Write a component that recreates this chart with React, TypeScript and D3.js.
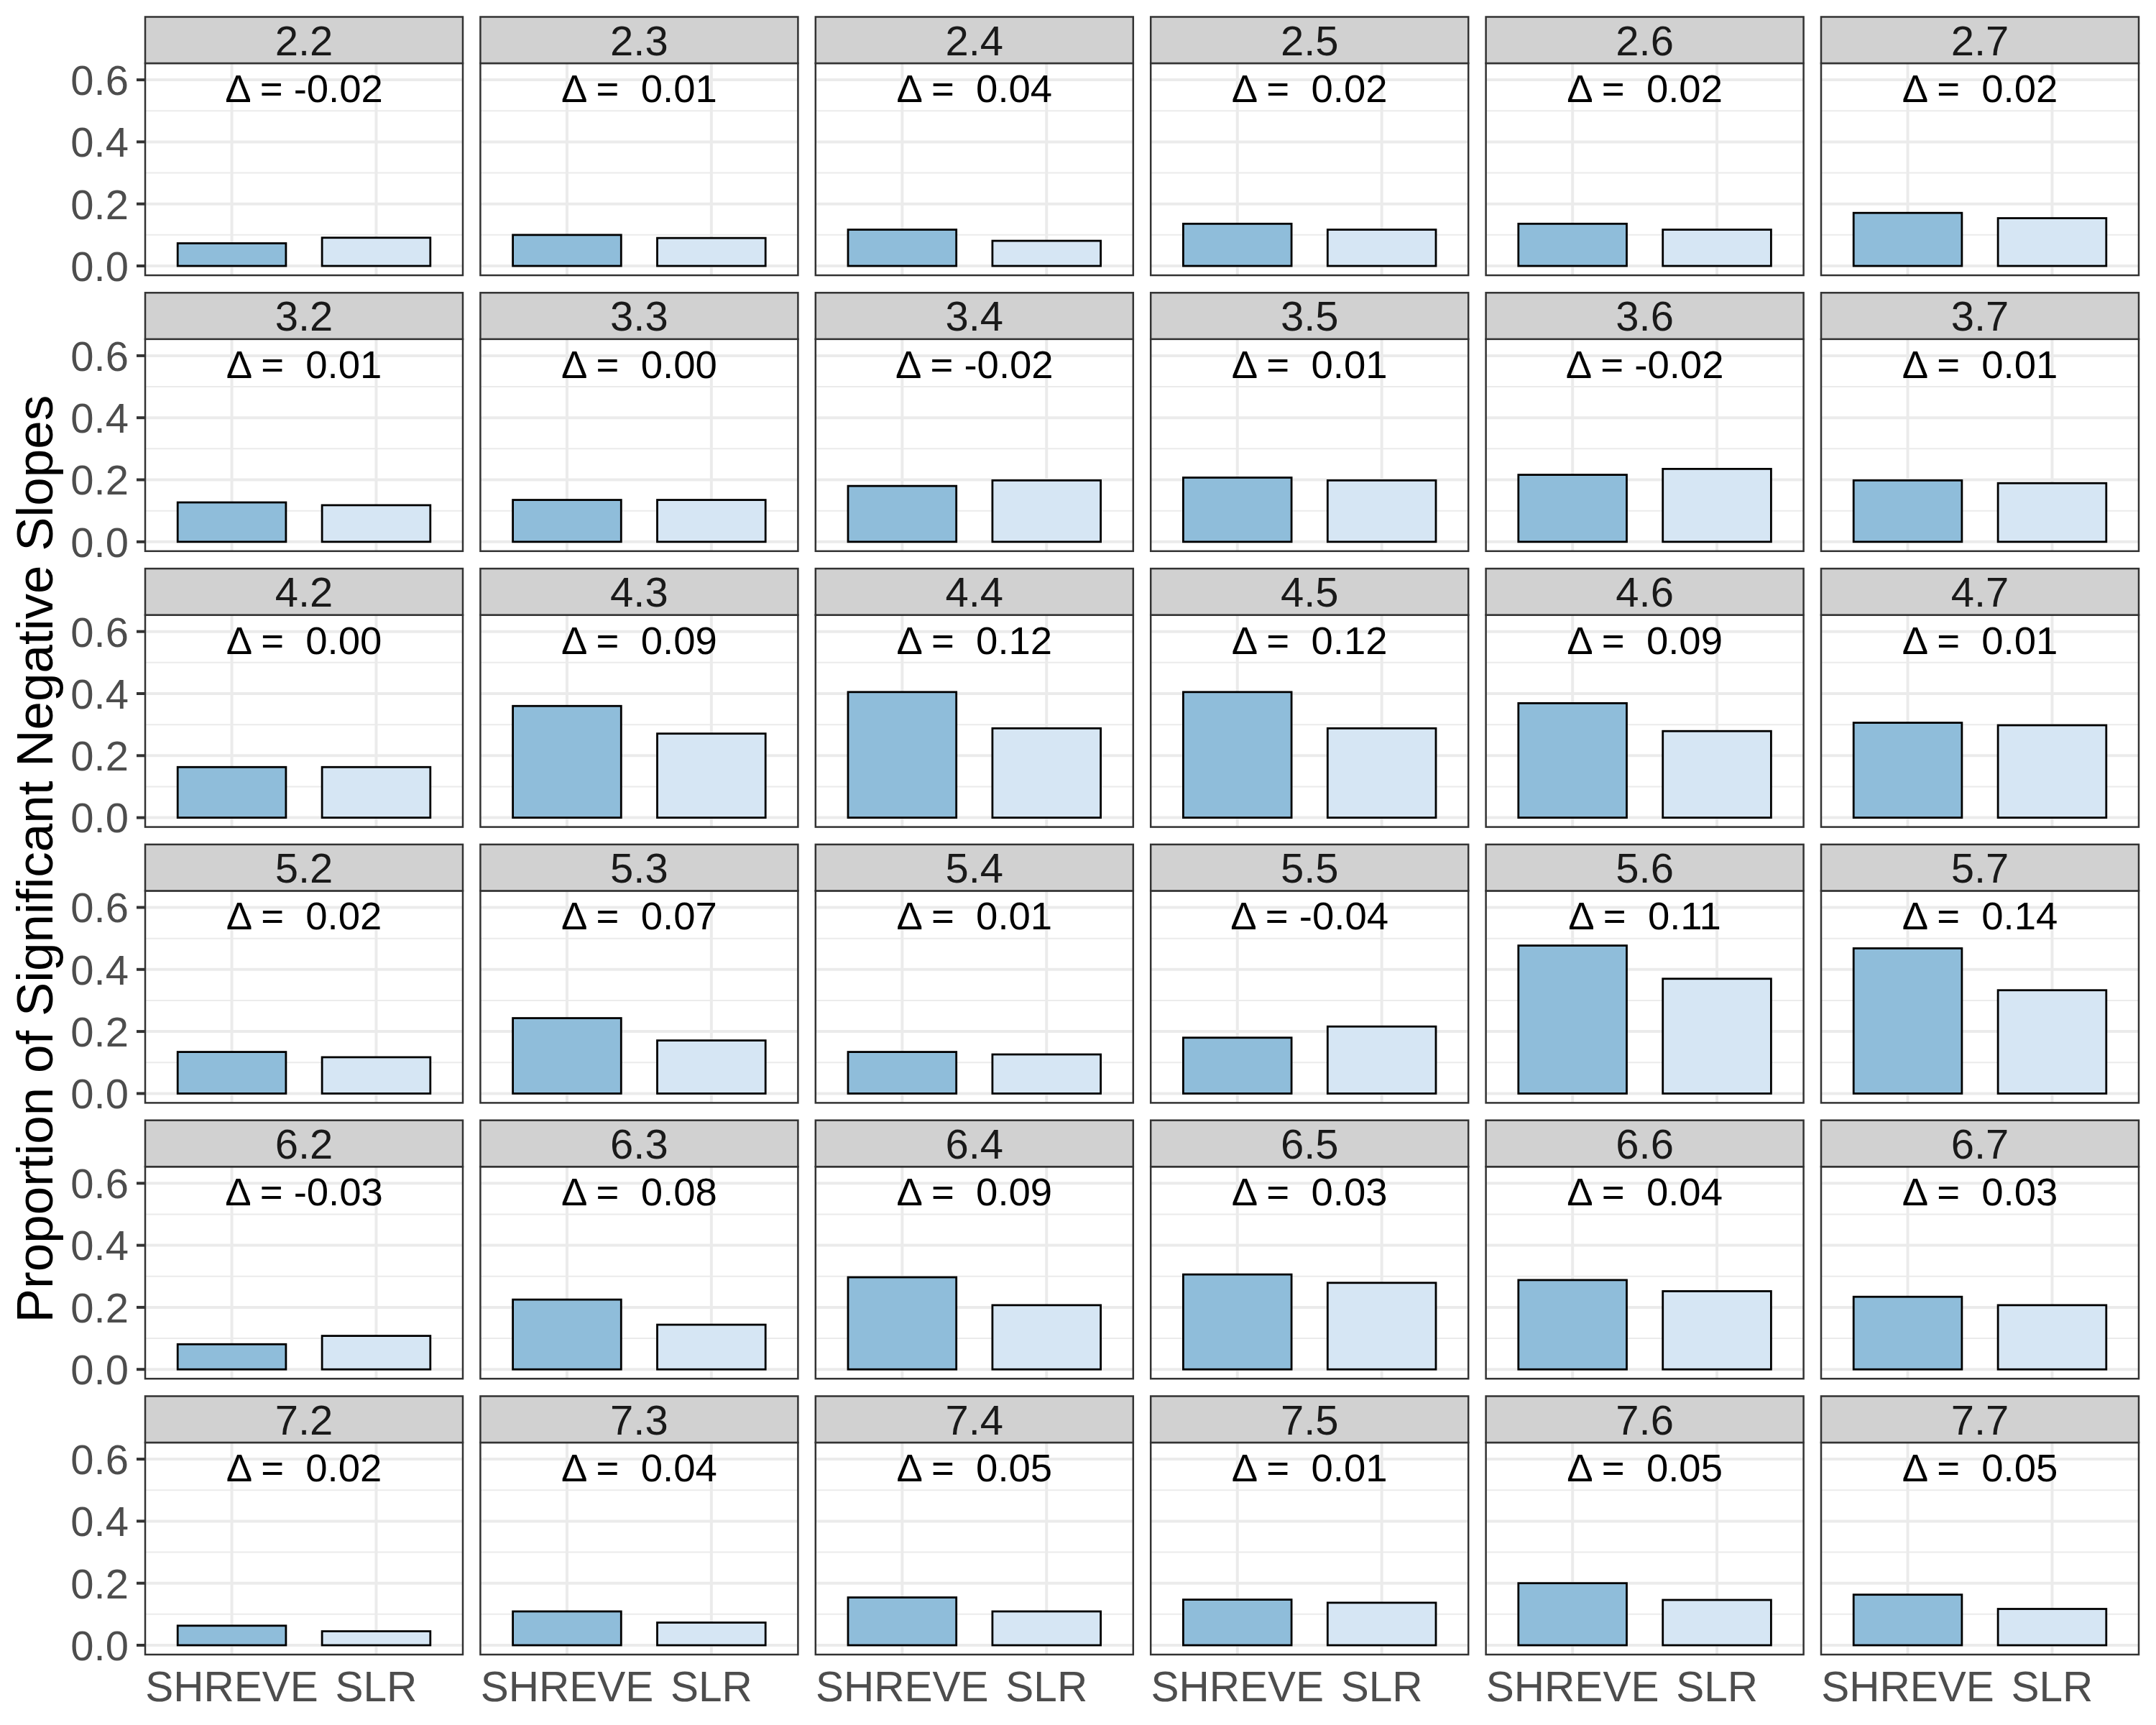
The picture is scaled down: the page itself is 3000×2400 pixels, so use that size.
import * as d3 from "d3";
import React from "react";

// facet labels, row by row
const panelLabels = [
  "2.2", "2.3", "2.4", "2.5", "2.6", "2.7",
  "3.2", "3.3", "3.4", "3.5", "3.6", "3.7",
  "4.2", "4.3", "4.4", "4.5", "4.6", "4.7",
  "5.2", "5.3", "5.4", "5.5", "5.6", "5.7",
  "6.2", "6.3", "6.4", "6.5", "6.6", "6.7",
  "7.2", "7.3", "7.4", "7.5", "7.6", "7.7",
];
const methods = ["SHREVE", "SLR"];
const shreve = [
  0.073, 0.1, 0.117, 0.136, 0.136, 0.171,
  0.127, 0.135, 0.18, 0.207, 0.216, 0.198,
  0.163, 0.36, 0.405, 0.405, 0.369, 0.306,
  0.134, 0.243, 0.134, 0.18, 0.477, 0.468,
  0.081, 0.225, 0.297, 0.306, 0.288, 0.234,
  0.063, 0.109, 0.154, 0.147, 0.2, 0.163,
];
const slr = [
  0.091, 0.09, 0.081, 0.117, 0.117, 0.154,
  0.118, 0.135, 0.198, 0.198, 0.235, 0.189,
  0.163, 0.271, 0.288, 0.288, 0.279, 0.298,
  0.117, 0.171, 0.126, 0.216, 0.37, 0.333,
  0.108, 0.144, 0.207, 0.279, 0.252, 0.207,
  0.045, 0.073, 0.109, 0.137, 0.146, 0.117,
];
const deltas = [
  -0.02, 0.01, 0.04, 0.02, 0.02, 0.02,
  0.01, 0.0, -0.02, 0.01, -0.02, 0.01,
  0.0, 0.09, 0.12, 0.12, 0.09, 0.01,
  0.02, 0.07, 0.01, -0.04, 0.11, 0.14,
  -0.03, 0.08, 0.09, 0.03, 0.04, 0.03,
  0.02, 0.04, 0.05, 0.01, 0.05, 0.05,
];
const yTicks = [0, 0.2, 0.4, 0.6];
const yMinor = [0.1, 0.3, 0.5];

const fills = ["#8fbdda", "#d6e6f4"];
const font = "'Liberation Sans', Arial, Helvetica, sans-serif";

const nCols = 6;
const left0 = 202;
const colStep = 466.4;
const panelW = 442;
const top0 = 23.5;
const rowStep = 383.8;
const stripH = 64.5;
const panelH = 295;

const fmtDelta = (d: number) =>
  d < 0 ? `Δ = ${d.toFixed(2)}` : `Δ =  ${d.toFixed(2)}`;

const App = () => {
  const x = d3.scalePoint().domain(methods).range([0, panelW]).padding(0.6);
  const barW = x.step() * 0.75;
  const y = d3.scaleLinear().domain([-0.0301, 0.6535]).range([panelH, 0]);
  const nRows = Math.ceil(panelLabels.length / nCols);
  const lastRowTop = top0 + (nRows - 1) * rowStep + stripH;

  return (
    <svg
      width={3000}
      height={2400}
      style={{ position: "absolute", left: 0, top: 0, background: "#fff" }}
      fontFamily={font}
    >
      <rect width={3000} height={2400} fill="#fff" />
      {panelLabels.map((label, i) => {
        const c = i % nCols;
        const r = Math.floor(i / nCols);
        const px = left0 + c * colStep;
        const sy = top0 + r * rowStep;
        const py = sy + stripH;
        const vals = [shreve[i], slr[i]];
        return (
          <g key={label}>
            <g transform={`translate(${px},${py})`}>
              <rect width={panelW} height={panelH} fill="#fff" />
              {yMinor.map((t) => (
                <line key={t} x1={0} x2={panelW} y1={y(t)} y2={y(t)} stroke="#ebebeb" strokeWidth={2} />
              ))}
              {yTicks.map((t) => (
                <line key={t} x1={0} x2={panelW} y1={y(t)} y2={y(t)} stroke="#ebebeb" strokeWidth={4} />
              ))}
              {methods.map((m) => (
                <line key={m} x1={x(m)} x2={x(m)} y1={0} y2={panelH} stroke="#ebebeb" strokeWidth={4} />
              ))}
              {methods.map((m, k) => (
                <rect
                  key={m}
                  x={(x(m) as number) - barW / 2}
                  y={y(vals[k])}
                  width={barW}
                  height={y(0) - y(vals[k])}
                  fill={fills[k]}
                  stroke="#000"
                  strokeWidth={2.8}
                />
              ))}
              <text
                x={panelW / 2}
                y={54}
                textAnchor="middle"
                fontSize={54.5}
                fill="#000"
                style={{ whiteSpace: "pre" }}
              >
                {fmtDelta(deltas[i])}
              </text>
              <rect width={panelW} height={panelH} fill="none" stroke="#333" strokeWidth={2.5} />
              {c === 0 &&
                yTicks.map((t) => (
                  <g key={t}>
                    <line x1={-12} x2={0} y1={y(t)} y2={y(t)} stroke="#333" strokeWidth={4} />
                    <text
                      x={-23}
                      y={y(t)}
                      dy="0.36em"
                      textAnchor="end"
                      fontSize={58}
                      fill="#4d4d4d"
                    >
                      {d3.format(".1f")(t)}
                    </text>
                  </g>
                ))}
              {r === nRows - 1 &&
                methods.map((m) => (
                  <text key={m} x={x(m)} y={panelH + 65} textAnchor="middle" fontSize={58.5} fill="#4d4d4d">
                    {m}
                  </text>
                ))}
            </g>
            <rect x={px} y={sy} width={panelW} height={stripH} fill="#d1d1d1" stroke="#333" strokeWidth={2.5} />
            <text x={px + panelW / 2} y={sy + 53} textAnchor="middle" fontSize={58} fill="#1a1a1a">
              {label}
            </text>
          </g>
        );
      })}
      <text
        transform={`translate(73,${(top0 + stripH + lastRowTop + panelH) / 2}) rotate(-90)`}
        textAnchor="middle"
        fontSize={71}
        fill="#000"
      >
        Proportion of Significant Negative Slopes
      </text>
    </svg>
  );
};

export default App;
